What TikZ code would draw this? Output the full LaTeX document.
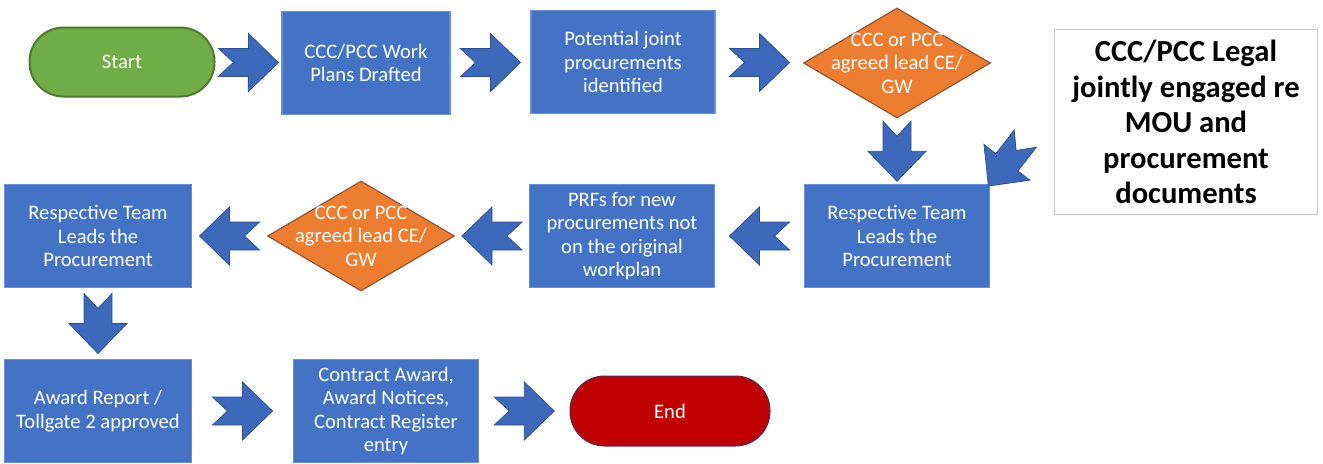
\documentclass[tikz,border=0pt]{standalone}
\usepackage{fontspec}
\setmainfont{Carlito}
\usetikzlibrary{shapes.geometric}
\definecolor{boxblue}{HTML}{4472C4}
\definecolor{boxedge}{HTML}{6A90D4}
\definecolor{arrowblue}{HTML}{3E69BA}
\definecolor{arrowedge}{HTML}{2F528F}
\definecolor{startgreen}{HTML}{70AD47}
\definecolor{startedge}{HTML}{4E7A31}
\definecolor{endred}{HTML}{C00000}
\definecolor{endedge}{HTML}{7E1A33}
\definecolor{leadorange}{HTML}{ED7D31}
\definecolor{leadedge}{HTML}{8F5634}
\definecolor{noteedge}{HTML}{C9C9C9}
\tikzset{
  flow label/.style={font=\fontsize{10.3}{11.8}\selectfont,align=center,text=white},
  process/.style={rectangle,fill=boxblue,draw=boxedge,line width=.6pt,
    minimum width=92.5pt,minimum height=51.5pt,inner sep=2pt,flow label},
  terminal/.style={rectangle,rounded corners=17pt,line width=1pt,
    minimum width=92.5pt,minimum height=34.5pt,flow label},
  decision/.style={diamond,fill=leadorange,draw=leadedge,line width=.6pt,
    minimum width=93.5pt,minimum height=55pt,inner sep=0pt},
  note/.style={rectangle,fill=white,draw=noteedge,line width=.6pt,
    minimum width=131.5pt,minimum height=92.5pt,align=center,
    font=\fontsize{15.3}{17.7}\selectfont\bfseries},
  block arrow/.pic={
    \filldraw[fill=arrowblue,draw=arrowedge,line width=.4pt]
      (-30,-14) -- (0,-14) -- (0,-29) -- (30,0) -- (0,29) -- (0,14)
      -- (-30,14) -- (-15,0) -- cycle;
  },
  flow step/.style={pos=.5,sloped,allow upside down}
}
\begin{document}
\begin{tikzpicture}[x=0.5pt,y=-0.5pt]
  \useasboundingbox (0,0) rectangle (1323,463);

  % top row
  \node[terminal,fill=startgreen,draw=startedge] (start) at (122,62) {Start};
  \node[process,minimum width=84pt] (drafted) at (366,63)
    {CCC/PCC Work\\Plans Drafted};
  \node[process,minimum width=92pt] (joint) at (623,62)
    {Potential joint\\procurements\\identified};
  \node[decision,label={[flow label]center:{CCC or PCC\\agreed lead CE/\\GW}}]
    (leadtop) at (897,63) {};
  \node[note] (legal) at (1186,122)
    {CCC/PCC Legal\\jointly engaged re\\MOU and\\procurement\\documents};

  % middle row
  \node[process] (teamR) at (897,236) {Respective Team\\Leads the\\Procurement};
  \node[process] (prfs) at (622,236)
    {PRFs for new\\procurements not\\on the original\\workplan};
  \node[decision,label={[flow label]center:{CCC or PCC\\agreed lead CE/\\GW}}]
    (leadmid) at (361,236) {};
  \node[process,minimum width=93.5pt] (teamL) at (98,236)
    {Respective Team\\Leads the\\Procurement};

  % bottom row
  \node[process,minimum width=93.5pt] (award) at (98,411)
    {Award Report /\\Tollgate 2 approved};
  \node[process] (contract) at (386,411)
    {Contract Award,\\Award Notices,\\Contract Register\\entry};
  \node[terminal,fill=endred,draw=endedge,minimum width=99.5pt] (end) at (670,411)
    {End};

  \coordinate (legalfeed) at (1032,130);

  \path (start) -- (drafted) pic[flow step]{block arrow};
  \path (drafted) -- (joint) pic[flow step]{block arrow};
  \path (joint) -- (leadtop) pic[flow step]{block arrow};
  \path (leadtop) -- (teamR) pic[flow step]{block arrow};
  \path (legalfeed) -- (teamR.north east) pic[flow step,pos=.6]{block arrow};
  \path (teamR) -- (prfs) pic[flow step]{block arrow};
  \path (prfs) -- (leadmid) pic[flow step]{block arrow};
  \path (leadmid) -- (teamL) pic[flow step]{block arrow};
  \path (teamL) -- (award) pic[flow step]{block arrow};
  \path (award) -- (contract) pic[flow step]{block arrow};
  \path (contract) -- (end) pic[flow step]{block arrow};
\end{tikzpicture}
\end{document}
